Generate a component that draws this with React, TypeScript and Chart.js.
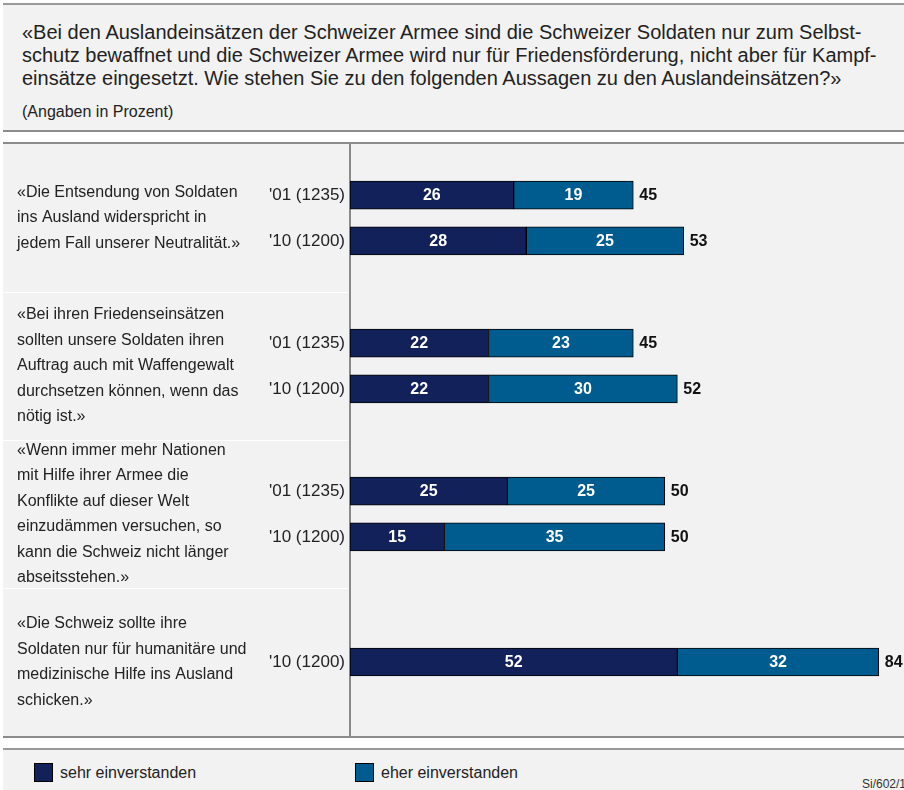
import React, { useEffect, useRef } from "react";
import { Chart, registerables } from "chart.js";

Chart.register(...registerables);

const titleLines = [
  "«Bei den Auslandeinsätzen der Schweizer Armee sind die Schweizer Soldaten nur zum Selbst-",
  "schutz bewaffnet und die Schweizer Armee wird nur für Friedensförderung, nicht aber für Kampf-",
  "einsätze eingesetzt. Wie stehen Sie zu den folgenden Aussagen zu den Auslandeinsätzen?»",
];
const subtitle = "(Angaben in Prozent)";

const questions: string[][] = [
  ["«Die Entsendung von Soldaten", "ins Ausland widerspricht in", "jedem Fall unserer Neutralität.»"],
  ["«Bei ihren Friedenseinsätzen", "sollten unsere Soldaten ihren", "Auftrag auch mit Waffengewalt", "durchsetzen können, wenn das", "nötig ist.»"],
  ["«Wenn immer mehr Nationen", "mit Hilfe ihrer Armee die", "Konflikte auf dieser Welt", "einzudämmen versuchen, so", "kann die Schweiz nicht länger", "abseitsstehen.»"],
  ["«Die Schweiz sollte ihre", "Soldaten nur für humanitäre und", "medizinische Hilfe ins Ausland", "schicken.»"],
];

const rowGroup = [0, 0, 1, 1, 2, 2, 3];
const rowLabels = ["'01 (1235)", "'10 (1200)", "'01 (1235)", "'10 (1200)", "'01 (1235)", "'10 (1200)", "'10 (1200)"];
const sehr = [26, 28, 22, 22, 25, 15, 52];
const eher = [19, 25, 23, 30, 25, 35, 32];
const totals = [45, 53, 45, 52, 50, 50, 84];

const seriesNames = ["sehr einverstanden", "eher einverstanden"];
const NAVY = "#13215b";
const BLUE = "#005b8e";
const FONT = '"Liberation Sans", Arial, Helvetica, sans-serif';

// index-axis position of each row: section centre, split for pairs
const OFFSET = 0.155;
const rowPos = rowGroup.map((g, i) => {
  const n = rowGroup.filter((x) => x === g).length;
  if (n === 1) return g + 0.5;
  const first = rowGroup.indexOf(g) === i;
  return g + 0.5 + (first ? -OFFSET : OFFSET);
});

const labelPlugin = {
  id: "barLabels",
  beforeDatasetsDraw(chart: any) {
    const { ctx, chartArea, scales } = chart;
    const y = scales.y;
    ctx.save();
    // section separators in left column
    ctx.strokeStyle = "#ffffff";
    ctx.lineWidth = 1;
    for (let g = 1; g < questions.length; g++) {
      const py = Math.round(y.getPixelForValue(g)) + 0.5;
      ctx.beginPath();
      ctx.moveTo(0, py);
      ctx.lineTo(chartArea.left - 2, py);
      ctx.stroke();
    }
    // question texts
    ctx.font = `16px ${FONT}`;
    ctx.fillStyle = "#222";
    ctx.textAlign = "left";
    ctx.textBaseline = "middle";
    const lh = 25.5;
    questions.forEach((lines, g) => {
      const cy = y.getPixelForValue(g + 0.5);
      const start = cy - ((lines.length - 1) * lh) / 2;
      lines.forEach((t, k) => ctx.fillText(t, 14, start + k * lh));
    });
    ctx.restore();
  },
  afterDatasetsDraw(chart: any) {
    const { ctx } = chart;
    ctx.save();
    ctx.font = `bold 16px ${FONT}`;
    ctx.textBaseline = "middle";
    const vals = [sehr, eher];
    chart.data.datasets.forEach((_ds: any, di: number) => {
      const meta = chart.getDatasetMeta(di);
      meta.data.forEach((el: any, i: number) => {
        const p = el.getProps(["x", "y", "base"], true);
        ctx.fillStyle = "#ffffff";
        ctx.textAlign = "center";
        ctx.fillText(String(vals[di][i]), (p.x + p.base) / 2, p.y + 1);
      });
    });
    const last = chart.getDatasetMeta(chart.data.datasets.length - 1);
    last.data.forEach((el: any, i: number) => {
      const p = el.getProps(["x", "y"], true);
      ctx.fillStyle = "#111";
      ctx.textAlign = "left";
      ctx.fillText(String(totals[i]), p.x + 6, p.y + 1);
    });
    ctx.restore();
  },
};

function BarChart() {
  const ref = useRef<HTMLCanvasElement>(null);
  useEffect(() => {
    if (!ref.current) return;
    const colors = [NAVY, BLUE];
    const chart = new Chart(ref.current, {
      type: "bar",
      data: {
        datasets: [sehr, eher].map((arr, di) => ({
          label: seriesNames[di],
          data: arr.map((v, i) => ({ x: v, y: rowPos[i] })),
          backgroundColor: colors[di],
          borderColor: "#000",
          borderWidth: 1,
          borderSkipped: false,
          barThickness: 28,
        })),
      } as any,
      options: {
        indexAxis: "y",
        animation: false,
        responsive: false,
        maintainAspectRatio: false,
        layout: { padding: 0 },
        plugins: { legend: { display: false }, tooltip: { enabled: false } },
        scales: {
          x: { type: "linear", display: false, stacked: true, min: 0, max: 88, offset: false },
          y: {
            type: "linear",
            reverse: true,
            offset: false,
            min: 0,
            max: 4,
            stacked: true,
            grid: { display: false, drawTicks: false, offset: false },
            border: { display: true, color: "#8a8a8a", width: 2 },
            afterFit: (s: any) => {
              s.width = 347;
              s.paddingTop = 0;
              s.paddingBottom = 0;
            },
            afterBuildTicks: (s: any) => {
              s.ticks = rowPos.map((v) => ({ value: v }));
            },
            ticks: {
              autoSkip: false,
              padding: 5,
              color: "#222",
              font: { size: 17, family: FONT },
              callback: (_v: any, i: number) => rowLabels[i],
            },
          },
        },
      } as any,
      plugins: [labelPlugin],
    });
    return () => chart.destroy();
  }, []);
  return <canvas ref={ref} width={901} height={592} style={{ display: "block", width: 901, height: 592 }} />;
}

export default function App() {
  const box: React.CSSProperties = { position: "absolute", left: 3, background: "#f2f2f2", boxSizing: "border-box" };
  return (
    <div style={{ position: "absolute", left: 0, top: 0, width: 904, height: 790, background: "#fff", fontFamily: FONT, color: "#222", overflow: "hidden" }}>
      <div style={{ ...box, top: 3, width: 901, height: 129, borderTop: "2px solid #999", borderBottom: "2px solid #8c8c8c" }}>
        {titleLines.map((t, i) => (
          <div key={i} style={{ position: "absolute", left: 19, top: 16 + i * 23, fontSize: 20, lineHeight: "23px", whiteSpace: "nowrap" }}>{t}</div>
        ))}
        <div style={{ position: "absolute", left: 19, top: 98, fontSize: 16, lineHeight: "18px", whiteSpace: "nowrap" }}>{subtitle}</div>
      </div>
      <div style={{ ...box, top: 142, width: 901, height: 596, borderTop: "2px solid #8c8c8c", borderBottom: "2px solid #8c8c8c" }}>
        <BarChart />
      </div>
      <div style={{ ...box, top: 748, width: 901, height: 42, borderTop: "2px solid #9a9a9a" }}>
        {seriesNames.map((n, i) => (
          <div key={n} style={{ position: "absolute", left: [31, 352][i], top: 13, display: "flex", alignItems: "center" }}>
            <div style={{ width: 17, height: 17, background: [NAVY, BLUE][i], border: "1px solid #000" }} />
            <span style={{ marginLeft: 7, fontSize: 16 }}>{n}</span>
          </div>
        ))}
        <div style={{ position: "absolute", left: 859, top: 27, fontSize: 12, color: "#333", whiteSpace: "nowrap" }}>Si/602/1</div>
      </div>
    </div>
  );
}
